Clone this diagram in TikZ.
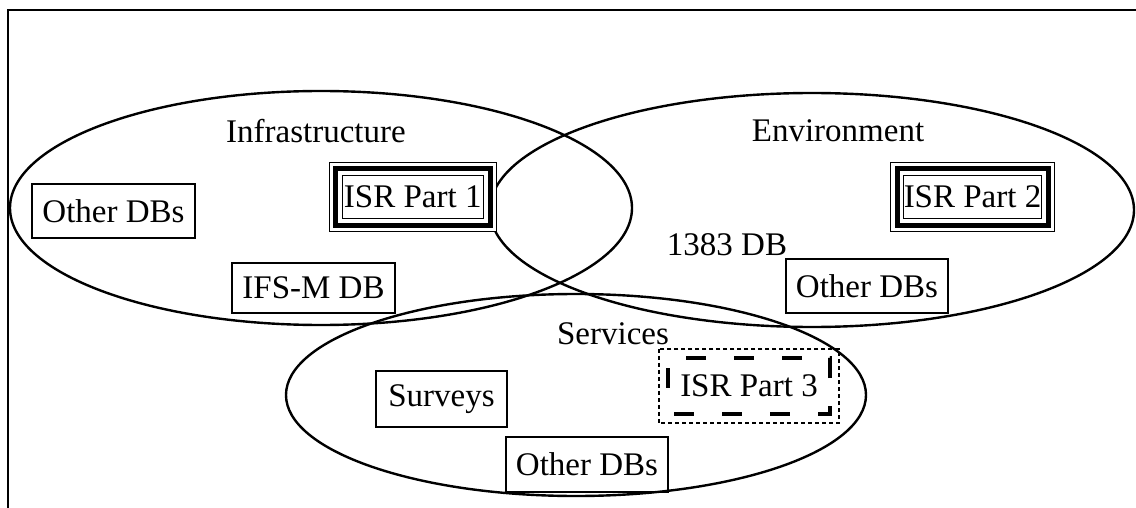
\documentclass[tikz,border=0pt]{standalone}
\usepackage{fontspec}
\setmainfont{Liberation Serif}
\tikzset{
  region/.style={draw, line width=1.2pt},
  dbbox/.style={draw, line width=1pt, inner sep=0pt, font=\fontsize{16.5}{18}\selectfont},
  label/.style={inner sep=0pt, font=\fontsize{16.5}{18}\selectfont},
  % thin - thick - thin frame
  isrbox/.style={dbbox, line width=2.5pt,
    preaction={draw, line width=7pt},
    preaction={draw=white, line width=6pt}},
  % thick dashed frame, surrounded by a fine dotted one
  isrdash/.style={dbbox, line width=2.2pt, dash pattern=on 10pt off 14pt, dash phase=-3pt},
  finedash/.style={line width=1pt, dash pattern=on 2pt off 1.5pt}
}
\begin{document}
\begin{tikzpicture}[x=0.5pt, y=-0.5pt]
\useasboundingbox (0,0) rectangle (1136,508);
% frame (open at right and bottom)
\draw[line width=1.4pt] (8,508) -- (8,10) -- (1136,10);

% the three overlapping regions
\draw[region] (321,208) ellipse [x radius=311, y radius=117];
\draw[region] (812,210) ellipse [x radius=322, y radius=117];
\draw[region] (576,395) ellipse [x radius=290, y radius=101];

% region titles
\node[label] (infra) at (316,131) {Infrastructure};
\node[label] (env) at (838,131) {Environment};
\node[label] (serv) at (613,334) {Services};
\node[label] (db1383) at (727,245) {1383 DB};

% databases
\node[dbbox, minimum width=81.5pt, minimum height=27pt] (oth1) at (113.5,211) {Other DBs};
\node[dbbox, minimum width=81.5pt, minimum height=25pt] (ifs) at (313.5,287.5) {IFS-M DB};
\node[dbbox, minimum width=81pt, minimum height=27pt] (oth2) at (867,286) {Other DBs};
\node[dbbox, minimum width=65.5pt, minimum height=28pt] (surv) at (441.5,399) {Surveys};
\node[dbbox, minimum width=81pt, minimum height=27.5pt] (oth3) at (587,464.5) {Other DBs};

% survey report parts
\node[isrbox, minimum width=77.25pt, minimum height=28pt] (isr1) at (412.75,197) {ISR Part 1};
\node[isrbox, minimum width=75.5pt, minimum height=28pt] (isr2) at (972.5,197) {ISR Part 2};
\node[isrdash, minimum width=81pt, minimum height=28pt] (isr3) at (749,386) {ISR Part 3};
\draw[finedash] ([shift={(-7,-7)}]isr3.north west) rectangle ([shift={(7,7)}]isr3.south east);
\end{tikzpicture}
\end{document}
